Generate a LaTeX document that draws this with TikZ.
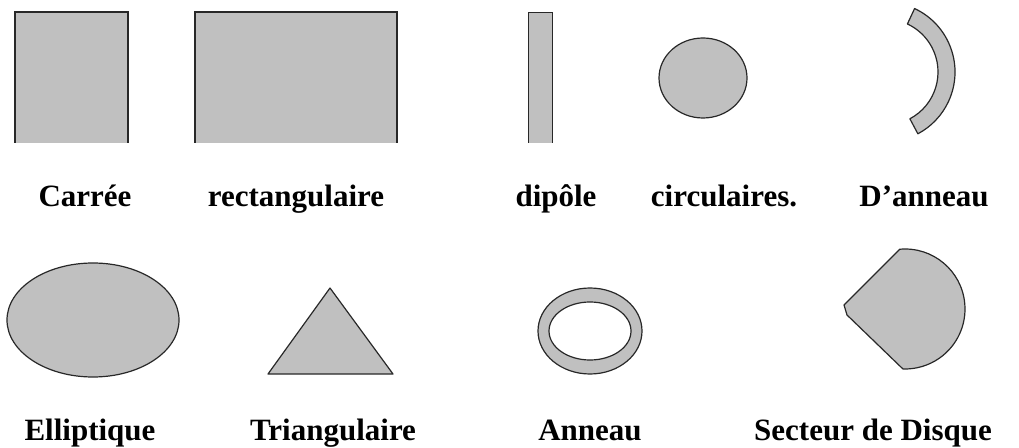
\documentclass[tikz,border=0pt]{standalone}
\usepackage{fontspec}
\setmainfont{Liberation Serif}
\usepackage{tikz}
\definecolor{patchgray}{RGB}{192,192,192}
\definecolor{edgegray}{RGB}{40,40,40}

\begin{document}
\begin{tikzpicture}[
  x=1pt, y=1pt,
  piece/.style={draw=edgegray, fill=patchgray, line width=1.2pt, line join=round},
  openpiece/.style={draw=edgegray, line width=1.4pt},
  lbl/.style={anchor=base, inner sep=0pt, font=\fontsize{31}{36}\selectfont\bfseries}
]
\useasboundingbox (0,0) rectangle (1019,447);

\fill[patchgray] (15,304) rectangle (128,435);
\draw[openpiece] (15,304) -- (15,435) -- (128,435) -- (128,304);
\draw[openpiece, line width=2pt] (15,304) -- (15,435);

\fill[patchgray] (195,304) rectangle (397,435);
\draw[openpiece] (195,304) -- (195,435) -- (397,435) -- (397,304);

\fill[patchgray] (528,304) rectangle (552,434);
\draw[openpiece, line width=1pt] (528,304) -- (528,434) -- (552,434) -- (552,304);

\draw[piece] (703,369) ellipse [x radius=44pt, y radius=40pt];

\begin{scope}[shift={(885,375)}]
\draw[piece] (65:70pt) arc[start angle=65, end angle=-62, radius=70pt]
  -- (-62:53pt) arc[start angle=-62, end angle=65, radius=53pt] -- cycle;
\end{scope}

\draw[piece] (93,127) ellipse [x radius=86pt, y radius=57pt];

\draw[piece] (330,159) -- (393,73) -- (268,73) -- cycle;

\draw[piece, even odd rule] (590,116) ellipse [x radius=52pt, y radius=43pt]
  (590,116) ellipse [x radius=41pt, y radius=29pt];

\begin{scope}[shift={(905,138)}]
\draw[piece] (95:60pt) arc[start angle=95, end angle=-92, radius=60pt]
  -- (-58,-6) -- (-61,4) -- cycle;
\end{scope}

\node[lbl] (carree) at (85,240) {Carrée};
\node[lbl] (rect) at (296,240) {rectangulaire};
\node[lbl] (dipole) at (556,240) {dipôle};
\node[lbl] (circ) at (724,240) {circulaires.};
\node[lbl] (danneau) at (924,240) {D’anneau};

\node[lbl] (ellip) at (90,7) {Elliptique};
\node[lbl] (trian) at (333,7) {Triangulaire};
\node[lbl] (anneau) at (590,7) {Anneau};
\node[lbl] (secteur) at (873,7) {Secteur de Disque};

\end{tikzpicture}
\end{document}
